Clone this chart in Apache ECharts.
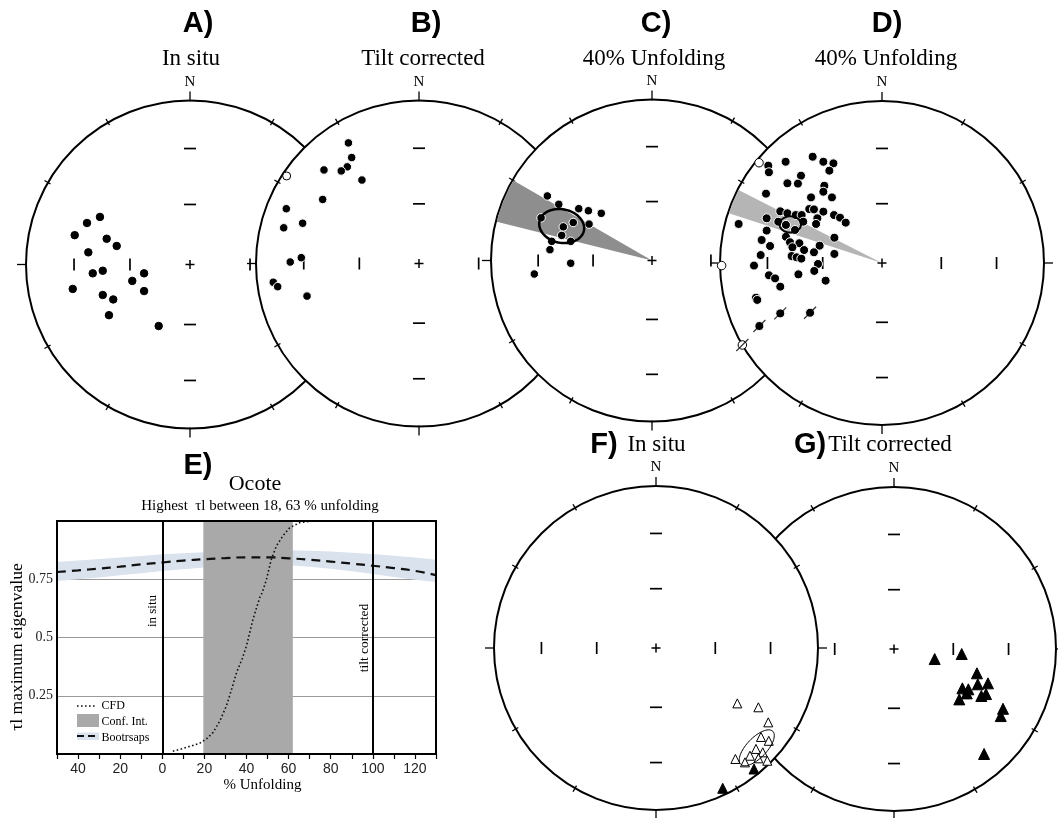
<!DOCTYPE html>
<html>
<head>
<meta charset="utf-8">
<title>Ocote unfolding test</title>
<script src="https://cdn.jsdelivr.net/npm/echarts@6.0.0/dist/echarts.min.js"></script>
<style>
  html, body { margin: 0; padding: 0; background: #fff; }
  #main { width: 1058px; height: 818px; }
</style>
</head>
<body>
<div id="main"></div>
<script>
// stereonet furniture: rim ticks every 30 deg, inner ticks at 30 and 60 deg inclination
const rimAzimuths = [0, 30, 60, 90, 120, 150, 180, 210, 240, 270, 300, 330]
const incTicks = [30, 60]

const inSituA = [
  [-0.549, 0.290], [-0.628, 0.253], [-0.703, 0.179], [-0.508, 0.157], [-0.447, 0.113],
  [-0.620, 0.074], [-0.532, -0.038], [-0.593, -0.054], [-0.280, -0.054], [-0.352, -0.100],
  [-0.715, -0.149], [-0.280, -0.162], [-0.532, -0.186], [-0.468, -0.213], [-0.494, -0.309],
  [-0.191, -0.375]
]
const tiltB = [
  [-0.433, 0.740], [-0.413, 0.650], [-0.440, 0.593], [-0.477, 0.568], [-0.583, 0.574],
  [-0.350, 0.512], [-0.591, 0.393], [-0.814, 0.336], [-0.714, 0.247], [-0.830, 0.219],
  [-0.722, 0.036], [-0.790, 0.009], [-0.894, -0.115], [-0.867, -0.142], [-0.687, -0.200]
]
const tiltBUpper = [[-0.812, 0.537]]
const unfoldC = [
  [-0.650, 0.401], [-0.579, 0.349], [-0.455, 0.322], [-0.395, 0.309], [-0.315, 0.293],
  [-0.689, 0.265], [-0.489, 0.236], [-0.391, 0.226], [-0.551, 0.209], [-0.561, 0.156],
  [-0.623, 0.119], [-0.505, 0.119], [-0.634, 0.067], [-0.505, -0.017], [-0.731, -0.084]
]
const coneC = [284, 300] // azimuth limits of the shaded cone
const ellipseC = [-0.561, 0.214, 0.141, 0.104, -12] // x, y, a, b, rotation
const unfoldD = [
  [-0.428, 0.656], [-0.362, 0.625], [-0.300, 0.615], [-0.325, 0.570], [-0.702, 0.601],
  [-0.698, 0.560], [-0.595, 0.625], [-0.500, 0.539], [-0.519, 0.490], [-0.584, 0.492],
  [-0.356, 0.477], [-0.362, 0.440], [-0.309, 0.405], [-0.716, 0.428], [-0.438, 0.405],
  [-0.449, 0.333], [-0.420, 0.331], [-0.362, 0.317], [-0.628, 0.319], [-0.584, 0.307],
  [-0.533, 0.296], [-0.496, 0.296], [-0.296, 0.296], [-0.259, 0.280], [-0.224, 0.249],
  [-0.399, 0.276], [-0.407, 0.241], [-0.885, 0.241], [-0.712, 0.276], [-0.712, 0.200],
  [-0.640, 0.255], [-0.593, 0.235], [-0.537, 0.204], [-0.486, 0.255], [-0.294, 0.156],
  [-0.743, 0.142], [-0.691, 0.105], [-0.593, 0.162], [-0.568, 0.128], [-0.510, 0.122],
  [-0.481, 0.080], [-0.385, 0.107], [-0.420, 0.066], [-0.553, 0.097], [-0.558, 0.043],
  [-0.527, 0.035], [-0.498, 0.027], [-0.749, 0.049], [-0.294, 0.056], [-0.790, -0.016],
  [-0.395, -0.006], [-0.418, -0.049], [-0.698, -0.076], [-0.660, -0.095], [-0.628, -0.146],
  [-0.516, -0.070], [-0.348, -0.109], [-0.778, -0.214], [-0.770, -0.228], [-0.628, -0.311],
  [-0.444, -0.307], [-0.757, -0.389]
]
const unfoldDUpper = [[-0.759, 0.619], [-0.990, -0.016], [-0.862, -0.506]]
const unfoldDSlashed = [[-0.628, -0.311], [-0.444, -0.307], [-0.757, -0.389], [-0.862, -0.506]]
const coneD = [288, 297]
const ellipseD = [-0.566, 0.238, 0.066, 0.05, 0]
const inSituFUpper = [
  [0.502, -0.342], [0.632, -0.366], [0.693, -0.459], [0.648, -0.549], [0.696, -0.573],
  [0.617, -0.623], [0.659, -0.644], [0.580, -0.665], [0.490, -0.685], [0.549, -0.706],
  [0.687, -0.696], [0.632, -0.681]
]
const inSituFLower = [[0.605, -0.747], [0.412, -0.866]]
const ellipseF = [0.622, -0.616, 0.142, 0.062, 46]
const tiltG = [
  [0.251, -0.062], [0.418, -0.031], [0.512, -0.150], [0.517, -0.218], [0.580, -0.212],
  [0.422, -0.243], [0.459, -0.249], [0.449, -0.274], [0.403, -0.311], [0.539, -0.290],
  [0.568, -0.278], [0.673, -0.369], [0.659, -0.414], [0.556, -0.648]
]

// fold test curve (panel E)
const bootX = [-50, -40, -30, -20, -10, 0, 10, 20, 30, 40, 50, 60, 70, 80, 90, 100, 110, 120, 130]
const bootMean = [0.781, 0.788, 0.796, 0.804, 0.814, 0.822, 0.830, 0.836, 0.841, 0.844, 0.844, 0.840, 0.834, 0.826, 0.817, 0.808, 0.798, 0.786, 0.768]
const bootUpper = [0.824, 0.830, 0.837, 0.843, 0.850, 0.857, 0.862, 0.866, 0.870, 0.872, 0.874, 0.874, 0.872, 0.869, 0.864, 0.858, 0.851, 0.843, 0.834]
const bootLower = [0.743, 0.750, 0.758, 0.767, 0.776, 0.785, 0.793, 0.800, 0.806, 0.810, 0.812, 0.810, 0.804, 0.795, 0.784, 0.772, 0.760, 0.748, 0.738]
const cfdX = [5, 8.5, 11.6, 15, 17.9, 21, 24.2, 27.5, 30.5, 33, 35.3, 38, 40, 43.1, 46.3, 47.5, 49.5, 51.8, 54.2, 57.3, 60.5, 65.3, 71.6]
const cfdY = [0.012, 0.02, 0.029, 0.038, 0.047, 0.065, 0.093, 0.145, 0.207, 0.28, 0.35, 0.41, 0.464, 0.579, 0.672, 0.693, 0.75, 0.836, 0.893, 0.936, 0.971, 0.993, 1.0]
const confInt = [19.5, 62]
const refLines = [0, 100]

const SERIF = '"Liberation Serif", "Times New Roman", serif'
const SANS = '"Liberation Sans", Arial, sans-serif'

// net placement, in draw order (F sits on top of G)
const netBoxes = [
  { cx: 190, cy: 264.5, r: 164 }, // A
  { cx: 419, cy: 263.5, r: 163 }, // B
  { cx: 652, cy: 260.5, r: 161 }, // C
  { cx: 882, cy: 263, r: 162 }, // D
  { cx: 894, cy: 649, r: 162 }, // G
  { cx: 656, cy: 648, r: 162 } // F
]

function seg (x1, y1, x2, y2, w) {
  return { type: 'line', shape: { x1, y1, x2, y2 }, style: { stroke: '#000', lineWidth: w } }
}

function frameSeries (i, z) {
  return {
    type: 'custom',
    xAxisIndex: i,
    yAxisIndex: i,
    z: z,
    silent: true,
    data: [[0, 0]],
    renderItem (params, api) {
      const c = api.coord([0, 0])
      const R = api.size([1, 0])[0]
      const kids = [{ type: 'circle', shape: { cx: c[0], cy: c[1], r: R }, style: { fill: '#fff', stroke: '#000', lineWidth: 2 } }]
      rimAzimuths.forEach(az => {
        const a = az * Math.PI / 180
        const dx = Math.sin(a)
        const dy = -Math.cos(a)
        const major = az % 90 === 0
        const r0 = major ? R - 1 : R - 3
        const r1 = major ? R + 9 : R + 4
        kids.push(seg(c[0] + dx * r0, c[1] + dy * r0, c[0] + dx * r1, c[1] + dy * r1, 1.3))
      })
      incTicks.forEach(inc => {
        const d = R * Math.SQRT2 * Math.sin((90 - inc) / 2 * Math.PI / 180)
        kids.push(seg(c[0] - 6, c[1] - d, c[0] + 6, c[1] - d, 1.7))
        kids.push(seg(c[0] - 6, c[1] + d, c[0] + 6, c[1] + d, 1.7))
        kids.push(seg(c[0] - d, c[1] - 6, c[0] - d, c[1] + 6, 1.7))
        kids.push(seg(c[0] + d, c[1] - 6, c[0] + d, c[1] + 6, 1.7))
      })
      kids.push(seg(c[0] - 4.5, c[1], c[0] + 4.5, c[1], 1.5))
      kids.push(seg(c[0], c[1] - 4.5, c[0], c[1] + 4.5, 1.5))
      kids.push({
        type: 'text',
        style: { text: 'N', x: c[0], y: c[1] - R - 11, textAlign: 'center', textVerticalAlign: 'bottom', font: '15px ' + SERIF, fill: '#000' }
      })
      return { type: 'group', children: kids }
    }
  }
}

function coneSeries (i, cone, color, z) {
  return {
    type: 'custom',
    xAxisIndex: i,
    yAxisIndex: i,
    z: z,
    silent: true,
    data: [[0, 0]],
    renderItem (params, api) {
      const c = api.coord([0, 0])
      const R = api.size([1, 0])[0]
      return {
        type: 'sector',
        shape: { cx: c[0], cy: c[1], r0: 0, r: R - 1, startAngle: (cone[0] - 90) * Math.PI / 180, endAngle: (cone[1] - 90) * Math.PI / 180, clockwise: true },
        style: { fill: color }
      }
    }
  }
}

function ellipseSeries (i, e, width, z) {
  return {
    type: 'custom',
    xAxisIndex: i,
    yAxisIndex: i,
    z: z,
    silent: true,
    data: [[e[0], e[1]]],
    renderItem (params, api) {
      const c = api.coord([e[0], e[1]])
      const rx = api.size([e[2], 0])[0]
      const ry = api.size([e[3], 0])[0]
      const th = e[4] * Math.PI / 180
      const pts = []
      for (let k = 0; k < 72; k++) {
        const t = k / 72 * Math.PI * 2
        const ex = rx * Math.cos(t)
        const ey = ry * Math.sin(t)
        pts.push([c[0] + ex * Math.cos(th) - ey * Math.sin(th), c[1] - (ex * Math.sin(th) + ey * Math.cos(th))])
      }
      return { type: 'polygon', shape: { points: pts }, style: { fill: 'none', stroke: '#000', lineWidth: width } }
    }
  }
}

function dotSeries (i, data, z, size, fill, stroke, symbol) {
  return {
    type: 'scatter',
    xAxisIndex: i,
    yAxisIndex: i,
    z: z,
    clip: false,
    silent: true,
    symbol: symbol || 'circle',
    symbolSize: size,
    itemStyle: { color: fill, borderColor: stroke, borderWidth: 1, opacity: 1 },
    data: data
  }
}

const grids = netBoxes.map(b => ({
  left: b.cx - b.r, top: b.cy - b.r, width: 2 * b.r, height: 2 * b.r, containLabel: false, outerBoundsMode: 'none'
}))
grids.push({ left: 57, top: 521, width: 379, height: 233, containLabel: false, outerBoundsMode: 'none' })

const xAxes = netBoxes.map((b, i) => ({ type: 'value', gridIndex: i, min: -1, max: 1, show: false }))
const yAxes = netBoxes.map((b, i) => ({ type: 'value', gridIndex: i, min: -1, max: 1, show: false }))

xAxes.push({
  type: 'value',
  gridIndex: 6,
  min: -50,
  max: 130,
  interval: 10,
  axisLine: { lineStyle: { color: '#000', width: 2 } },
  axisTick: { length: 5, lineStyle: { color: '#000', width: 1.2 } },
  axisLabel: {
    margin: 8,
    fontFamily: SANS,
    fontSize: 14,
    color: '#222',
    showMinLabel: true,
    showMaxLabel: true,
    formatter: v => (v % 20 === 0 ? String(Math.abs(v)) : '')
  },
  splitLine: { show: false }
})
yAxes.push({
  type: 'value',
  gridIndex: 6,
  min: 0,
  max: 1,
  interval: 0.25,
  axisLine: { show: false },
  axisTick: { show: false },
  axisLabel: {
    margin: 4,
    fontFamily: SERIF,
    fontSize: 14,
    color: '#222',
    formatter: v => (v > 0 && v < 1 ? String(v) : '')
  },
  splitLine: { lineStyle: { color: '#9a9a9a', width: 1 } }
})

const series = [
  // A
  frameSeries(0, 10),
  dotSeries(0, inSituA, 12, 7.5, '#000', '#000'),
  // B
  frameSeries(1, 15),
  dotSeries(1, tiltB, 17, 8.5, '#000', '#fff'),
  dotSeries(1, tiltBUpper, 17, 8, '#fff', '#000'),
  // C
  frameSeries(2, 20),
  coneSeries(2, coneC, '#8e8e8e', 21),
  dotSeries(2, unfoldC, 22, 8.5, '#000', '#fff'),
  ellipseSeries(2, ellipseC, 2.5, 23),
  // D
  frameSeries(3, 25),
  coneSeries(3, coneD, '#b5b5b5', 26),
  dotSeries(3, unfoldD, 27, 9, '#000', '#fff'),
  dotSeries(3, unfoldDUpper, 27, 8.5, '#fff', '#000'),
  ellipseSeries(3, ellipseD, 2, 28),
  {
    type: 'scatter',
    xAxisIndex: 3,
    yAxisIndex: 3,
    z: 28,
    clip: false,
    silent: true,
    symbol: 'rect',
    symbolSize: [1.2, 17],
    symbolRotate: -45,
    itemStyle: { color: '#000' },
    data: unfoldDSlashed
  },
  // G
  frameSeries(4, 30),
  dotSeries(4, tiltG, 32, 11, '#000', '#000', 'triangle'),
  // F
  frameSeries(5, 35),
  dotSeries(5, inSituFUpper, 37, 9, '#fff', '#000', 'triangle'),
  dotSeries(5, inSituFLower, 37, 10, '#000', '#000', 'triangle'),
  ellipseSeries(5, ellipseF, 1, 38),
  // E: bootstrap envelope
  {
    type: 'custom',
    xAxisIndex: 6,
    yAxisIndex: 6,
    z: 2,
    silent: true,
    data: [[0, 0]],
    renderItem (params, api) {
      const pts = []
      bootX.forEach((x, i) => pts.push(api.coord([x, bootUpper[i]])))
      for (let i = bootX.length - 1; i >= 0; i--) pts.push(api.coord([bootX[i], bootLower[i]]))
      return { type: 'polygon', shape: { points: pts }, style: { fill: '#dae2ee' } }
    }
  },
  // E: confidence interval
  {
    type: 'custom',
    xAxisIndex: 6,
    yAxisIndex: 6,
    z: 3,
    silent: true,
    data: [[confInt[0], 1]],
    renderItem (params, api) {
      const p0 = api.coord([confInt[0], 1])
      const p1 = api.coord([confInt[1], 0])
      return { type: 'rect', shape: { x: p0[0], y: p0[1], width: p1[0] - p0[0], height: p1[1] - p0[1] }, style: { fill: '#a9a9a9' } }
    }
  },
  {
    type: 'line',
    xAxisIndex: 6,
    yAxisIndex: 6,
    z: 4,
    silent: true,
    symbol: 'none',
    smooth: true,
    lineStyle: { color: '#111', width: 2.2, type: [9, 6] },
    data: bootX.map((x, i) => [x, bootMean[i]])
  },
  {
    type: 'line',
    xAxisIndex: 6,
    yAxisIndex: 6,
    z: 5,
    silent: true,
    symbol: 'none',
    lineStyle: { color: '#111', width: 1.6, type: [1.6, 2.4] },
    data: cfdX.map((x, i) => [x, cfdY[i]]),
    markLine: {
      silent: true,
      symbol: ['none', 'none'],
      label: { show: false },
      lineStyle: { color: '#000', width: 2, type: 'solid' },
      data: refLines.map(v => ({ xAxis: v }))
    }
  },
  // E: frame
  {
    type: 'custom',
    xAxisIndex: 6,
    yAxisIndex: 6,
    z: 10,
    silent: true,
    data: [[-50, 1]],
    renderItem (params, api) {
      const p0 = api.coord([-50, 1])
      const p1 = api.coord([130, 0])
      return { type: 'rect', shape: { x: p0[0], y: p0[1], width: p1[0] - p0[0], height: p1[1] - p0[1] }, style: { fill: 'none', stroke: '#000', lineWidth: 2 } }
    }
  }
]

function label (text, x, y, font, extra) {
  return Object.assign({
    type: 'text',
    x: x,
    y: y,
    z: 100,
    silent: true,
    style: { text: text, font: font, fill: '#000', textAlign: 'center', textVerticalAlign: 'middle' }
  }, extra || {})
}

function legendText (text, y) {
  return label(text, 101.5, y, '12px ' + SERIF, {
    style: { text: text, font: '12px ' + SERIF, fill: '#000', textAlign: 'left', textVerticalAlign: 'middle' }
  })
}

const BOLD = 'bold 29px ' + SANS
const SUB = '23px ' + SERIF

const graphics = [
  label('A)', 198, 24, BOLD),
  label('In situ', 191, 59, SUB),
  label('B)', 426, 24, BOLD),
  label('Tilt corrected', 423, 59, SUB),
  label('C)', 656, 24, BOLD),
  label('40% Unfolding', 654, 59, SUB),
  label('D)', 887, 24, BOLD),
  label('40% Unfolding', 886, 59, SUB),
  label('F)', 604, 445, BOLD),
  label('In situ', 656.5, 445, SUB),
  label('G)', 810, 445, BOLD),
  label('Tilt corrected', 890, 445, SUB),
  label('E)', 198, 466, BOLD),
  label('Ocote', 255, 484, '22px ' + SERIF),
  label('Highest  \u03c4l between 18, 63 % unfolding', 260, 506, '15px ' + SERIF),
  label('\u03c4l maximum eigenvalue', 17, 647, '17.5px ' + SERIF, { rotation: Math.PI / 2 }),
  label('% Unfolding', 262.5, 785, '15px ' + SERIF),
  label('in situ', 152.5, 611, '13px ' + SERIF, { rotation: Math.PI / 2 }),
  label('tilt corrected', 364, 638, '13.5px ' + SERIF, { rotation: Math.PI / 2 }),
  // legend of panel E
  { type: 'line', z: 100, silent: true, shape: { x1: 77, y1: 706, x2: 96, y2: 706 }, style: { stroke: '#111', lineWidth: 1.6, lineDash: [1.6, 2.4] } },
  { type: 'rect', z: 100, silent: true, shape: { x: 77, y: 714, width: 22, height: 13 }, style: { fill: '#a9a9a9' } },
  { type: 'rect', z: 100, silent: true, shape: { x: 77, y: 732.5, width: 22, height: 7.5 }, style: { fill: '#dae2ee' } },
  { type: 'line', z: 101, silent: true, shape: { x1: 77, y1: 736, x2: 97, y2: 736 }, style: { stroke: '#111', lineWidth: 2.2, lineDash: [7, 4] } },
  legendText('CFD', 706),
  legendText('Conf. Int.', 721.5),
  legendText('Bootrsaps', 737.5)
]

const chart = echarts.init(document.getElementById('main'), null, { renderer: 'canvas' })
chart.setOption({
  backgroundColor: '#fff',
  animation: false,
  textStyle: { fontFamily: SERIF },
  grid: grids,
  xAxis: xAxes,
  yAxis: yAxes,
  series: series,
  graphic: graphics
})
</script>
</body>
</html>
